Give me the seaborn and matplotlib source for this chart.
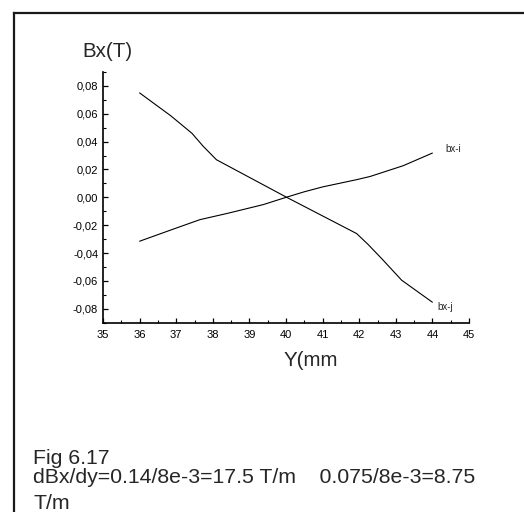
import numpy as np
import pandas as pd
import matplotlib
matplotlib.use("Agg")
import matplotlib.pyplot as plt
from matplotlib.lines import Line2D
from matplotlib.ticker import FixedLocator, MultipleLocator, FixedFormatter
import seaborn as sns

# ---- data ----
y_bx_i = [36, 36.9, 37.65, 38.4, 39.38, 40, 40.5, 41.0, 41.93, 42.3, 43.2, 44.0]
bx_i = [-0.0315, -0.023, -0.016, -0.0115, -0.0052, 0.0, 0.004, 0.0075, 0.0127, 0.015, 0.0227, 0.0318]

y_bx_j = [36, 36.85, 37.43, 37.74, 38.1, 40.02, 41.93, 42.25, 42.64, 43.16, 44.0]
bx_j = [0.075, 0.0586, 0.046, 0.0366, 0.027, 0.0, -0.026, -0.034, -0.0447, -0.0595, -0.0753]

series_names = ["bx-i", "bx-j"]
xticks = [35, 36, 37, 38, 39, 40, 41, 42, 43, 44, 45]
yticks = [-0.08, -0.06, -0.04, -0.02, 0.0, 0.02, 0.04, 0.06, 0.08]
ytick_labels = ["-0,08", "-0,06", "-0,04", "-0,02", "0,00", "0,02", "0,04", "0,06", "0,08"]
y_label = "Bx(T)"
x_label = "Y(mm"
caption = ["Fig 6.17", "dBx/dy=0.14/8e-3=17.5 T/m    0.075/8e-3=8.75", "T/m"]

df = pd.DataFrame({
    "Y": y_bx_i + y_bx_j,
    "Bx": bx_i + bx_j,
    "series": [series_names[0]] * len(y_bx_i) + [series_names[1]] * len(y_bx_j),
})

sns.set_style("ticks")
plt.rcParams["font.family"] = ["Liberation Sans", "DejaVu Sans"]

W, H = 524, 512
fig = plt.figure(figsize=(W / 100, H / 100), dpi=100)
fig.patch.set_facecolor("white")

ax_l, ax_r, ax_b, ax_t = 103, 469, 322.7, 72
ax = fig.add_axes([ax_l / W, 1 - ax_b / H, (ax_r - ax_l) / W, (ax_b - ax_t) / H])
ax.set_facecolor("white")

sns.lineplot(data=df, x="Y", y="Bx", hue="series", palette=["black", "black"],
             estimator=None, sort=False, legend=False, linewidth=0.8, ax=ax)

ax.set_xlim(35, 45)
ax.set_ylim(-0.09, 0.09)
ax.xaxis.set_major_locator(FixedLocator(xticks))
ax.xaxis.set_minor_locator(MultipleLocator(0.5))
ax.yaxis.set_major_locator(FixedLocator(yticks))
ax.yaxis.set_major_formatter(FixedFormatter(ytick_labels))
ax.yaxis.set_minor_locator(MultipleLocator(0.01))
ax.set_xlabel("")
ax.set_ylabel("")

for s in ["top", "right"]:
    ax.spines[s].set_visible(False)
for s in ["left", "bottom"]:
    ax.spines[s].set_linewidth(1.2)
    ax.spines[s].set_color("black")

ax.tick_params(which="major", direction="in", length=3.3, width=0.9, labelsize=8,
               colors="black", pad=3.5)
ax.tick_params(which="minor", direction="in", length=2.0, width=0.8, colors="black")
ax.tick_params(axis="x", which="major", pad=5)

# series labels
ax.text(44.35, 0.0345, series_names[0], fontsize=7, ha="left", va="center")
ax.text(44.15, -0.0785, series_names[1], fontsize=7, ha="left", va="center")

# axis titles
fig.text(82 / W, 1 - 56.7 / H, y_label, fontsize=14.8, ha="left", va="baseline")
fig.text(310.8 / W, 1 - 365.5 / H, x_label, fontsize=14.8, ha="center", va="baseline")

# caption
for txt, base in zip(caption, [464, 483, 509]):
    fig.text(33.3 / W, 1 - base / H, txt, fontsize=15.3, ha="left", va="baseline")

# frame border (top and left)
bx, by = 14 / W, 1 - 13 / H
fig.add_artist(Line2D([bx, bx], [-0.01, by], transform=fig.transFigure,
                      color="#1a1a1a", linewidth=1.6, solid_capstyle="projecting"))
fig.add_artist(Line2D([bx, 1.01], [by, by], transform=fig.transFigure,
                      color="#1a1a1a", linewidth=1.6, solid_capstyle="projecting"))

fig.savefig("out.png", dpi=100, facecolor="white")
